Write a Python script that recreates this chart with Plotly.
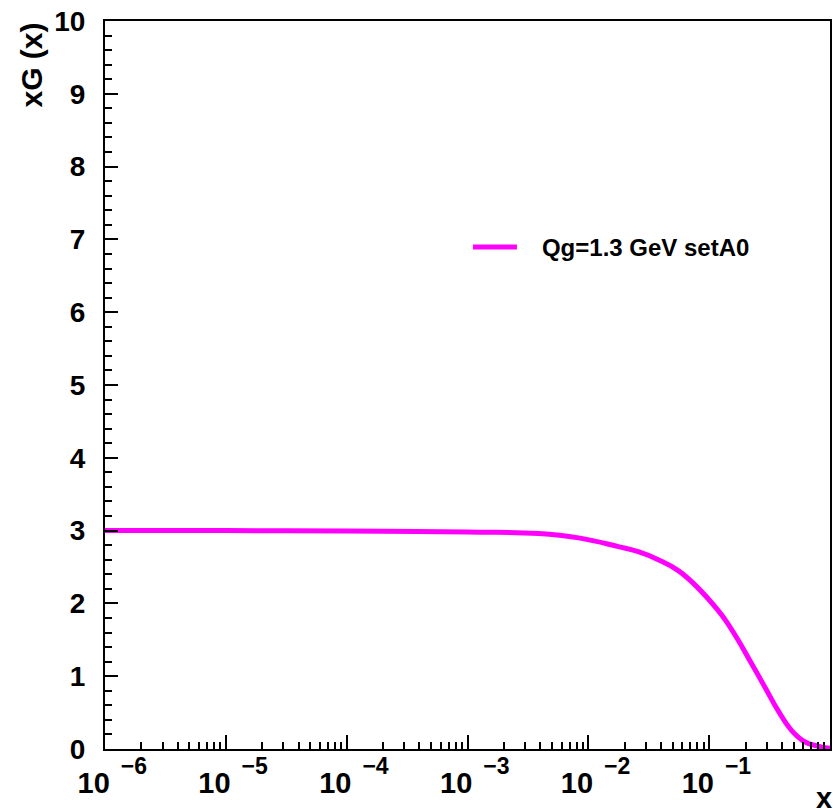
import plotly.graph_objects as go

# data
x_vals = [1e-6, 1e-5, 1e-4, 1e-3, 3.88e-3, 8.3e-3, 0.0177, 0.0259, 0.0379,
          0.0555, 0.0811, 0.119, 0.135, 0.173, 0.223, 0.288, 0.371, 0.478,
          0.617, 0.793, 1.0]
xg_vals = [3.0, 3.0, 2.995, 2.98, 2.96, 2.90, 2.78, 2.71, 2.60,
           2.45, 2.21, 1.90, 1.78, 1.50, 1.18, 0.856, 0.53, 0.26,
           0.10, 0.04, 0.01]
series_name = "Qg=1.3 GeV setA0"

x_major = [1e-6, 1e-5, 1e-4, 1e-3, 1e-2, 1e-1]
x_exp = ["−6", "−5", "−4", "−3", "−2", "−1"]
x_major_text = ["\u200210<span style='font-size:23px;baseline-shift:19px'>\u00a0\u2009%s</span>" % e
                for e in x_exp]
x_minor = [m * d for d in [1e-6, 1e-5, 1e-4, 1e-3, 1e-2, 1e-1] for m in range(2, 10)]
y_major = list(range(0, 11))

FONT = "Liberation Sans, Arial, Helvetica, sans-serif"

fig = go.Figure()
fig.add_trace(go.Scatter(
    x=x_vals, y=xg_vals, mode="lines", name="\u00a0\u00a0\u00a0" + series_name,
    line=dict(color="#ff00ff", width=5, shape="spline", smoothing=1.3),
))

fig.update_layout(
    width=833, height=808,
    margin=dict(l=105, r=1, t=21, b=59),
    paper_bgcolor="white", plot_bgcolor="white",
    font=dict(family=FONT, color="black"),
    showlegend=True,
    legend=dict(x=0.5006, y=0.689, xanchor="left", yanchor="middle",
                bgcolor="rgba(0,0,0,0)", borderwidth=0,
                font=dict(family=FONT, size=24, color="black", weight="bold"),
                itemwidth=44),
    xaxis=dict(
        type="log", range=[-6, 0],
        showgrid=False, zeroline=False,
        showline=True, linecolor="black", linewidth=2, mirror=True,
        ticks="inside", ticklen=14, tickwidth=1.5, tickcolor="black",
        tickvals=x_major, ticktext=x_major_text,
        tickfont=dict(family=FONT, size=29, color="black", weight="bold"),
        ticklabelstandoff=7,
        minor=dict(ticks="inside", ticklen=7, tickwidth=1.5, tickcolor="black",
                   tickvals=x_minor, showgrid=False),
    ),
    yaxis=dict(
        range=[0, 10],
        showgrid=False, zeroline=False,
        showline=True, linecolor="black", linewidth=2, mirror=True,
        ticks="inside", ticklen=13, tickwidth=1.5, tickcolor="black",
        tickvals=y_major,
        tickfont=dict(family=FONT, size=28, color="black", weight="bold"),
        ticklabelstandoff=12,
        minor=dict(ticks="inside", ticklen=7, tickwidth=1.5, tickcolor="black",
                   dtick=0.2, showgrid=False),
    ),
    annotations=[
        dict(text="<b>xG (x)</b>", xref="paper", yref="paper",
             x=-0.102, y=1.0, xanchor="center", yanchor="top",
             textangle=-90, showarrow=False,
             font=dict(family=FONT, size=30, color="black")),
        dict(text="<b>x</b>", xref="paper", yref="paper",
             x=1.005, y=-0.042, xanchor="right", yanchor="top",
             showarrow=False,
             font=dict(family=FONT, size=29, color="black")),
    ],
)

fig.write_html("out.html")
